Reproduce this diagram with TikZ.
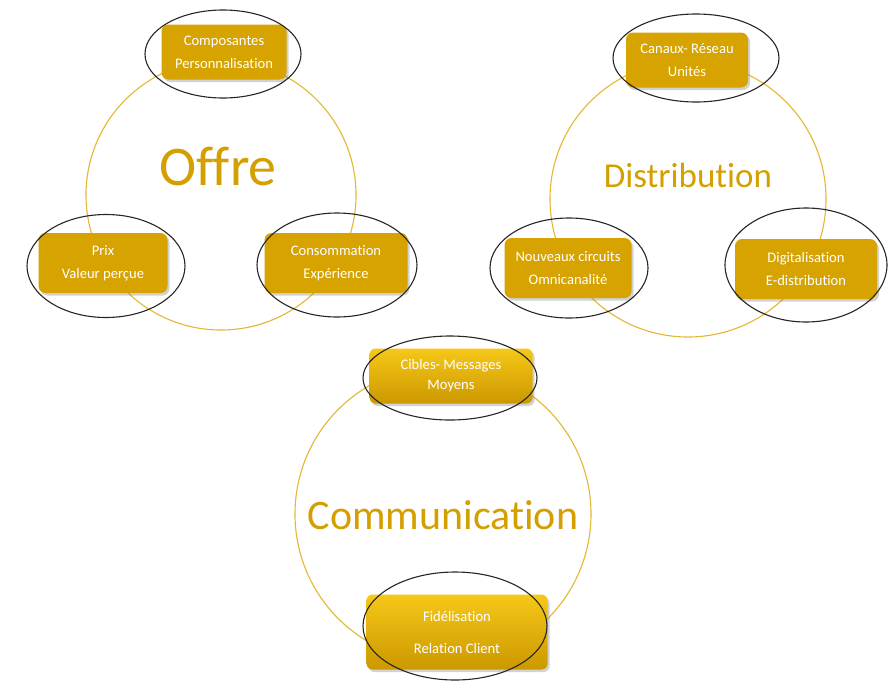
\documentclass[tikz,border=0pt]{standalone}
\usepackage{fontspec}
\setmainfont{Carlito}[RawFeature={-liga}]
\usetikzlibrary{shapes.geometric,shadows}
\definecolor{gold}{RGB}{214,163,0}
\definecolor{ringc}{RGB}{228,184,50}
\definecolor{titlegold}{RGB}{212,160,0}
\definecolor{bevtop}{RGB}{246,200,24}
\definecolor{bevmid}{RGB}{218,168,0}
\definecolor{bevbot}{RGB}{204,152,0}
\begin{document}
\begin{tikzpicture}[x=1pt,y=-1pt,
  ringcircle/.style={circle,draw=ringc,line width=1.1pt,minimum size=#1,inner sep=0pt},
  oval/.style 2 args={ellipse,draw=black!85,line width=1.1pt,inner sep=0pt,minimum width=#1,minimum height=#2},
  boxbase/.style={rounded corners=7pt,text=white,align=center,inner sep=0pt,
    drop shadow={opacity=0.35,shadow xshift=2pt,shadow yshift=-2.5pt}},
  flatbox/.style 2 args={boxbase,fill=gold,minimum width=#1,minimum height=#2},
  bevelbox/.style 2 args={boxbase,rounded corners=6pt,top color=bevtop,middle color=bevmid,bottom color=bevbot,minimum width=#1,minimum height=#2},
  boxfont/.style={font=\fontsize{14.6}{23}\selectfont},
  titlefont/.style={text=titlegold,inner sep=0pt}
]
\useasboundingbox (0,0) rectangle (891,691);
\fill[white] (0,0) rectangle (891,691);

% rings
\node[ringcircle=270pt] (ringO) at (221,195) {};
\node[ringcircle=276pt] (ringD) at (688,199) {};
\node[ringcircle=296pt] (ringC) at (443,514) {};

% titles
\node[titlefont,font=\fontsize{56}{60}\selectfont] (tOffre) at (218,166) {Offre};
\node[titlefont,font=\fontsize{35}{40}\selectfont] (tDist) at (688,175) {Distribution};
\node[titlefont,font=\fontsize{42}{46}\selectfont] (tComm) at (443,515) {Communication};

% boxes
\node[flatbox={125pt}{55pt},boxfont] (b1) at (224,52) {Composantes\\Personnalisation};
\node[flatbox={129pt}{60pt},boxfont] (b2) at (103,263) {Prix\\Valeur perçue};
\node[flatbox={143pt}{60pt},boxfont] (b3) at (336,263) {Consommation\\Expérience};
\node[flatbox={122pt}{55pt},boxfont] (b4) at (687,60) {Canaux- Réseau\\Unités};
\node[flatbox={127pt}{60pt},boxfont] (b5) at (568,268) {Nouveaux circuits\\Omnicanalité};
\node[flatbox={142pt}{60pt},boxfont] (b6) at (806,269) {Digitalisation\\E-distribution};
\node[bevelbox={163pt}{55pt},font=\fontsize{14.6}{20}\selectfont] (b7) at (451,376) {Cibles- Messages\\Moyens};
\node[bevelbox={181pt}{75pt},font=\fontsize{14.6}{32}\selectfont] (b8) at (457,632) {Fidélisation\\Relation Client};

% ovals
\node[oval={156pt}{88pt}] (e1) at (223,54) {};
\node[oval={158pt}{103pt}] (e2) at (106,266) {};
\node[oval={160pt}{104pt}] (e3) at (337,265) {};
\node[oval={166pt}{88pt}] (e4) at (696,58) {};
\node[oval={158pt}{100pt}] (e5) at (569,268) {};
\node[oval={162pt}{114pt}] (e6) at (806,265) {};
\node[oval={174pt}{84pt}] (e7) at (450,378) {};
\node[oval={184pt}{108pt}] (e8) at (455,626) {};
\end{tikzpicture}
\end{document}
